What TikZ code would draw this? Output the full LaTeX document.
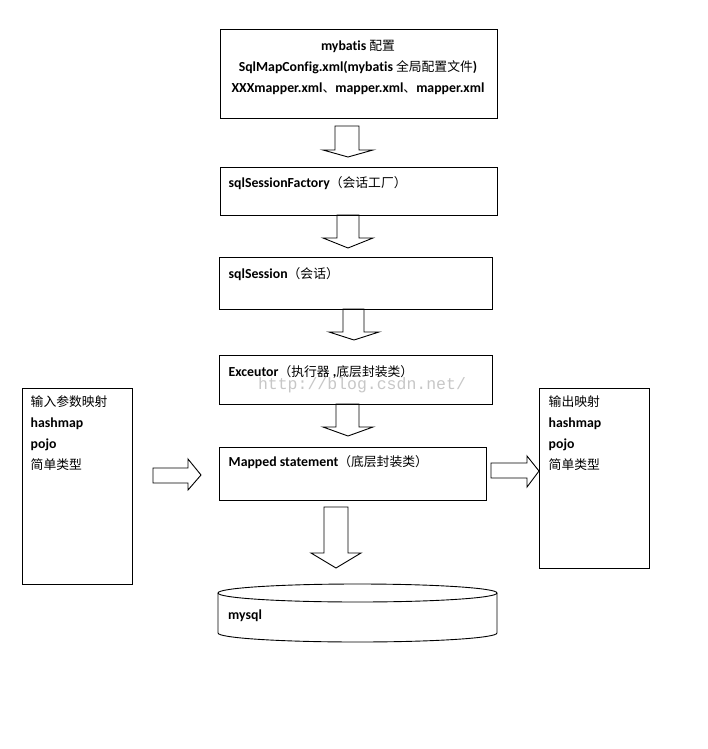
\documentclass[tikz,border=0pt]{standalone}
\usepackage{fontspec}
\setmainfont{Carlito}[Ligatures=NoCommon]
\newfontfamily\cjk{Noto Sans CJK SC}
\newfontfamily\wmfont{Liberation Mono}
\usetikzlibrary{positioning}
\newcommand{\zh}[1]{{\cjk\mdseries\fontsize{12.8}{21}\selectfont #1}}

\tikzset{
  box/.style={draw, line width=1pt, inner sep=0pt},
  txt/.style={inner sep=0pt, align=left, font=\fontsize{13.8}{21}\selectfont\bfseries},
  blockarrow/.style={draw, line width=0.9pt, line join=miter},
}

\begin{document}
\begin{tikzpicture}[x=1pt, y=-1pt]
        \useasboundingbox (0,0) rectangle (707,749);

        % boxes
        \node[box, minimum width=277, minimum height=89] (cfg) at (358.5,74.5) {};
        \node[box, minimum width=277, minimum height=48] (fac) at (358.5,191) {};
        \node[box, minimum width=273, minimum height=52] (ses) at (355.5,283) {};
        \node[box, minimum width=273, minimum height=49] (exe) at (355.5,379.5) {};
        \node[box, minimum width=267, minimum height=53] (stm) at (352.5,473.5) {};
        \node[box, minimum width=110, minimum height=196] (inp) at (77,486) {};
        \node[box, minimum width=110, minimum height=180] (outp) at (594,478) {};

        % texts
        \node[txt, align=center, anchor=north] (cfgtxt) at (358,40)
          {mybatis \zh{配置}\\ SqlMapConfig.xml(mybatis \zh{全局配置文件})\\
           XXXmapper.xml\zh{、}mapper.xml\zh{、}mapper.xml};
        \node[txt, below right=10pt and 9pt of fac.north west] (factxt)
          {sqlSessionFactory\zh{（会话工厂）}};
        \node[txt, below right=11pt and 10pt of ses.north west] (sestxt)
          {sqlSession\zh{（会话）}};
        \node[txt, below right=11pt and 10pt of exe.north west] (exetxt)
          {Exceutor\zh{（执行器} ,\zh{底层封装类）}};
        \node[txt, below right=9pt and 10pt of stm.north west] (stmtxt)
          {Mapped statement\zh{（底层封装类）}};
        \node[txt, below right=8pt and 9pt of inp.north west] (inptxt)
          {\zh{输入参数映射}\\ hashmap\\ pojo\\ \zh{简单类型}};
        \node[txt, below right=8pt and 10pt of outp.north west] (outptxt)
          {\zh{输出映射}\\ hashmap\\ pojo\\ \zh{简单类型}};

        % watermark
        \node[inner sep=0pt, text=black!22, font=\wmfont\fontsize{16.5}{18}\selectfont] (mark) at (362,385)
          {http://blog.csdn.net/};

        % block arrows
        \draw[blockarrow] (335,126) -- (359,126) -- (359,150) -- (373,150) -- (348,157) -- (323,150) -- (335,150) -- cycle;
        \draw[blockarrow] (337,215) -- (359,215) -- (359,238) -- (373,238) -- (348,248) -- (323,238) -- (337,238) -- cycle;
        \draw[blockarrow] (343,309) -- (364,309) -- (364,332) -- (379,332) -- (354,340) -- (329,332) -- (343,332) -- cycle;
        \draw[blockarrow] (336,404) -- (359,404) -- (359,427) -- (373,427) -- (348,436) -- (323,427) -- (336,427) -- cycle;
        \draw[blockarrow] (324,507) -- (348,507) -- (348,553) -- (361,553) -- (336,568) -- (311,553) -- (324,553) -- cycle;
        \draw[blockarrow] (153,468) -- (188,468) -- (188,459) -- (201,475) -- (188,490) -- (188,483) -- (153,483) -- cycle;
        \draw[blockarrow] (491,463) -- (527,463) -- (527,456) -- (539,471) -- (527,487) -- (527,478) -- (491,478) -- cycle;

        % database
        \draw[line width=0.9pt] (218,593) -- (218,633)
          arc[start angle=180, end angle=360, x radius=139.5pt, y radius=9pt] -- (497,593);
        \draw[line width=0.9pt] (357.5,593) ellipse [x radius=139.5pt, y radius=9pt];
        \node[txt, anchor=west] (db) at (228,616) {mysql};
      \end{tikzpicture}
\end{document}
